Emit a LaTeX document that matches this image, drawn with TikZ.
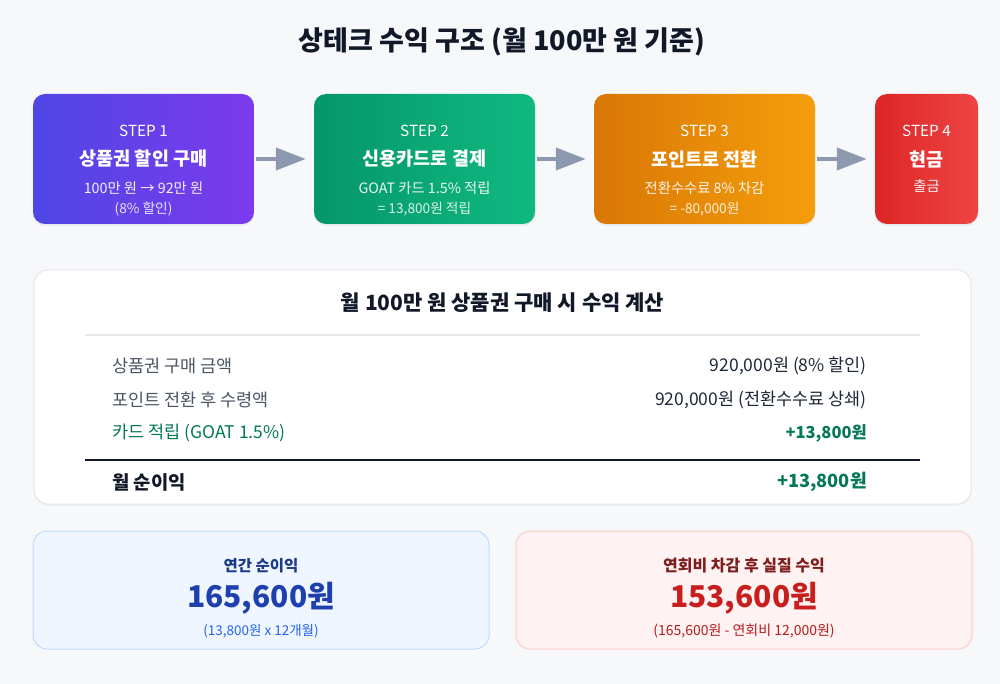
\documentclass[tikz,border=0pt]{standalone}
\usepackage{fontspec}
\setmainfont{Noto Sans CJK KR}
\usetikzlibrary{shadows,arrows.meta}
\definecolor{bgcol}{HTML}{F7F8FA}
\definecolor{sAa}{HTML}{4F46E5}\definecolor{sAb}{HTML}{7C3AED}
\definecolor{sBa}{HTML}{059669}\definecolor{sBb}{HTML}{10B981}
\definecolor{sCa}{HTML}{D97706}\definecolor{sCb}{HTML}{F59E0B}
\definecolor{sDa}{HTML}{DC2626}\definecolor{sDb}{HTML}{EF4444}
\definecolor{arrowcol}{HTML}{8D99AE}
\definecolor{panelborder}{HTML}{E5E7EB}
\definecolor{labelgray}{HTML}{4B5563}
\definecolor{valdark}{HTML}{1F2937}
\definecolor{greentxt}{HTML}{047857}
\definecolor{titledark}{HTML}{111827}
\definecolor{bluefill}{HTML}{EFF6FF}\definecolor{blueborder}{HTML}{BFDBFE}
\definecolor{bluehead}{HTML}{1E3A8A}\definecolor{bluebig}{HTML}{1E40AF}\definecolor{bluesub}{HTML}{2563EB}
\definecolor{redfill}{HTML}{FEF2F2}\definecolor{redborder}{HTML}{FECACA}
\definecolor{redhead}{HTML}{7F1D1D}\definecolor{redbig}{HTML}{C81E1E}\definecolor{redsub}{HTML}{B91C1C}
\newcommand{\fs}[1]{\fontsize{#1}{#1}\selectfont}
\tikzset{
  stepbox/.style={rounded corners=12pt, minimum height=130pt, inner sep=0pt,
    drop shadow={shadow xshift=0pt, shadow yshift=-2pt, opacity=0.10}},
  txt/.style={inner sep=0pt, font=\fs{#1}},
  steplabel/.style={txt=15.3, text=white},
  stephead/.style={txt=18.5, text=white, font=\fs{18.5}\bfseries},
  stepsub/.style={txt=14.3, text=white, text opacity=0.92},
  stepsubb/.style={txt=13.7, text=white, text opacity=0.85},
  flowarrow/.style={draw=arrowcol, line width=4pt, -{Triangle[length=30pt,width=22pt]}, shorten <=2pt, shorten >=8pt},
  panel/.style={rounded corners=14pt, inner sep=0pt},
}
\begin{document}
\begin{tikzpicture}[x=1pt,y=-1pt]
\useasboundingbox (0,0) rectangle (1000,684);
\fill[bgcol] (0,0) rectangle (1000,684);

\node[txt=27, text=titledark, font=\fs{27}\bfseries] (title) at (502,42) {상테크 수익 구조 (월 100만 원 기준)};

% step boxes
\node[stepbox, minimum width=221pt, left color=sAa, right color=sAb] (s1) at (143.5,159) {};
\node[stepbox, minimum width=221pt, left color=sBa, right color=sBb] (s2) at (424.5,159) {};
\node[stepbox, minimum width=221pt, left color=sCa, right color=sCb] (s3) at (704.5,159) {};
\node[stepbox, minimum width=103pt, left color=sDa, right color=sDb] (s4) at (926.5,159) {};

\node[steplabel] (s1a) at (143.5,131) {STEP 1};
\node[stephead] (s1b) at (143.5,159) {상품권 할인 구매};
\node[stepsub] (s1c) at (143.5,188) {100만 원 → 92만 원};
\node[stepsubb] (s1d) at (143.5,209) {(8\% 할인)};

\node[steplabel] (s2a) at (424.5,131) {STEP 2};
\node[stephead] (s2b) at (424.5,159) {신용카드로 결제};
\node[stepsub] (s2c) at (424.5,188) {GOAT 카드 1.5\% 적립};
\node[stepsubb] (s2d) at (424.5,209) {= 13,800원 적립};

\node[steplabel] (s3a) at (704.5,131) {STEP 3};
\node[stephead] (s3b) at (704.5,159) {포인트로 전환};
\node[stepsub] (s3c) at (704.5,188) {전환수수료 8\% 차감};
\node[stepsubb] (s3d) at (704.5,209) {= -80,000원};

\node[steplabel] (s4a) at (926.5,131) {STEP 4};
\node[stephead] (s4b) at (926.5,159) {현금};
\node[stepsub] (s4c) at (926.5,186) {출금};

\draw[flowarrow] (s1.east) -- (s2.west);
\draw[flowarrow] (s2.east) -- (s3.west);
\draw[flowarrow] (s3.east) -- (s4.west);

% calculation panel
\node[panel, fill=white, draw=panelborder, line width=1pt, minimum width=937pt, minimum height=234pt,
  drop shadow={shadow xshift=0pt, shadow yshift=-2pt, opacity=0.05}] (calc) at (502.5,387) {};
\node[txt=21, text=titledark, font=\fs{21}\bfseries] (calct) at (502.5,303) {월 100만 원 상품권 구매 시 수익 계산};
\coordinate (l1a) at (85,335); \coordinate (l1b) at (920,335);
\draw[panelborder, line width=1.2pt] (l1a) -- (l1b);
\node[txt=17.5, text=labelgray, anchor=west] (r1l) at (112,366) {상품권 구매 금액};
\node[txt=17.5, text=valdark, anchor=east] (r1v) at (867,366) {920,000원 (8\% 할인)};
\node[txt=17.5, text=labelgray, anchor=west] (r2l) at (112,400) {포인트 전환 후 수령액};
\node[txt=17.5, text=valdark, anchor=east] (r2v) at (867,400) {920,000원 (전환수수료 상쇄)};
\node[txt=17.5, text=greentxt, anchor=west] (r3l) at (112,433) {카드 적립 (GOAT 1.5\%)};
\node[txt=16.5, text=greentxt, anchor=east, font=\fs{16.5}\bfseries] (r3v) at (867,433) {+13,800원};
\coordinate (l2a) at (85,460); \coordinate (l2b) at (920,460);
\draw[titledark, line width=2pt] (l2a) -- (l2b);
\node[txt=18.8, text=titledark, anchor=west, font=\fs{18.8}\bfseries] (r4l) at (112,482) {월 순이익};
\node[txt=18.2, text=greentxt, anchor=east, font=\fs{18.2}\bfseries] (r4v) at (867,482) {+13,800원};

% summary boxes
\node[panel, fill=bluefill, draw=blueborder, line width=1pt, minimum width=456pt, minimum height=118pt] (annual) at (261,590) {};
\node[txt=15.5, text=bluehead, font=\fs{15.5}\bfseries] (annt) at (261,566) {연간 순이익};
\node[txt=30, text=bluebig, font=\fs{30}\bfseries] (annv) at (261,598) {165,600원};
\node[txt=13.5, text=bluesub] (anns) at (261,631) {(13,800원 x 12개월)};

\node[panel, fill=redfill, draw=redborder, line width=1pt, minimum width=456pt, minimum height=118pt] (real) at (744,590) {};
\node[txt=16, text=redhead, font=\fs{16}\bfseries] (realt) at (744,566) {연회비 차감 후 실질 수익};
\node[txt=30, text=redbig, font=\fs{30}\bfseries] (realv) at (744,598) {153,600원};
\node[txt=14, text=redsub] (reals) at (744,631) {(165,600원 - 연회비 12,000원)};
\end{tikzpicture}
\end{document}
